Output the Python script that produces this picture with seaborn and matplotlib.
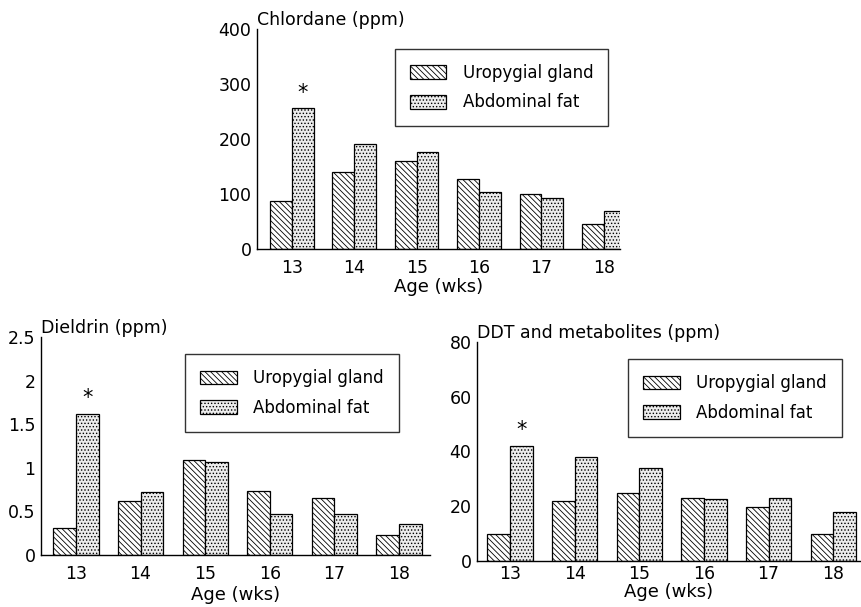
import numpy as np
import pandas as pd
import matplotlib
matplotlib.use("Agg")
import matplotlib.pyplot as plt
import seaborn as sns
from matplotlib.patches import Patch

# data
ages = ["13", "14", "15", "16", "17", "18"]
tissues = ["Uropygial gland", "Abdominal fat"]

chlordane_uro = [87, 140, 160, 127, 100, 45]
chlordane_fat = [256, 191, 176, 104, 93, 69]

dieldrin_uro = [0.31, 0.62, 1.09, 0.73, 0.65, 0.23]
dieldrin_fat = [1.62, 0.72, 1.07, 0.47, 0.47, 0.36]

ddt_uro = [10, 22, 25, 23, 19.7, 10]
ddt_fat = [42, 38, 34, 22.6, 23, 18]

W, H = 861, 607
HATCHES = ["\\" * 6, "." * 5]
FACES = ["white", "#ececec"]

sns.set_style("white")
plt.rcParams["font.family"] = ["DejaVu Sans"]
plt.rcParams["text.color"] = "black"
plt.rcParams["axes.labelcolor"] = "black"
plt.rcParams["xtick.color"] = "black"
plt.rcParams["ytick.color"] = "black"
plt.rcParams["hatch.linewidth"] = 0.6
plt.rcParams["hatch.color"] = "#444444"


def long_df(uro, fat):
    return pd.DataFrame({
        "age": ages * 2,
        "tissue": [tissues[0]] * len(ages) + [tissues[1]] * len(ages),
        "value": list(uro) + list(fat),
    })


def px_axes(fig, left, right, y0, ytop):
    """axes from pixel coords of the reference"""
    return fig.add_axes([left / W, (H - y0) / H, (right - left) / W, (y0 - ytop) / H])


def draw_panel(ax, uro, fat, ymax, yticks, yticklabels, ylabel, xlim, legend_box,
               xpad, xlabelpad):
    df = long_df(uro, fat)
    sns.barplot(data=df, x="age", y="value", hue="tissue", order=ages,
                hue_order=tissues, palette=FACES, width=0.7, edgecolor="black",
                linewidth=0.9, errorbar=None, legend=False, ax=ax)
    for cont, hatch in zip(ax.containers, HATCHES):
        for bar in cont:
            bar.set_hatch(hatch)

    # significance star on week-13 abdominal fat
    star_bar = ax.containers[1][0]
    ax.annotate("*", (star_bar.get_x() + star_bar.get_width() / 2, star_bar.get_height()),
                xytext=(0, 4), textcoords="offset points", ha="center", va="bottom",
                fontsize=15)

    ax.set_xlim(*xlim)
    ax.set_ylim(0, ymax)
    ax.set_yticks(yticks)
    ax.set_yticklabels(yticklabels)
    ax.set_xlabel("Age (wks)", fontsize=13, labelpad=xlabelpad)
    ax.set_ylabel("")
    ax.tick_params(axis="both", length=0, labelsize=12.5)
    ax.tick_params(axis="x", pad=xpad)
    ax.tick_params(axis="y", pad=4)
    sns.despine(ax=ax)
    for s in ["left", "bottom"]:
        ax.spines[s].set_color("black")
        ax.spines[s].set_linewidth(1.0)
    ax.text(0.0, 1.0, ylabel, transform=ax.transAxes, ha="left", va="bottom",
            fontsize=12.5)

    handles = [Patch(facecolor=FACES[i], edgecolor="black", hatch=HATCHES[i], linewidth=0.9)
               for i in range(2)]
    x0, y0, x1, y1 = legend_box
    leg = ax.legend(handles, tissues, loc="center",
                    bbox_to_anchor=((x0 + x1) / 2 / W, 1 - (y0 + y1) / 2 / H),
                    bbox_transform=ax.figure.transFigure,
                    frameon=True, fancybox=False, fontsize=12,
                    handlelength=2.2, handleheight=0.9, handletextpad=1.0,
                    labelspacing=0.7, borderpad=0.9)
    leg.get_frame().set_edgecolor("black")
    leg.get_frame().set_linewidth(1.0)


fig = plt.figure(figsize=(W / 100, H / 100), dpi=100)

ax_top = px_axes(fig, 257, 620, 249, 29)
draw_panel(ax_top, chlordane_uro, chlordane_fat, 400, [0, 100, 200, 300, 400],
           ["0", "100", "200", "300", "400"], "Chlordane (ppm)",
           (-0.56, 5.26), (394, 47, 609, 128), 7, 1)

ax_bl = px_axes(fig, 41, 430, 555, 337)
draw_panel(ax_bl, dieldrin_uro, dieldrin_fat, 2.5, [0, 0.5, 1, 1.5, 2, 2.5],
           ["0", "0.5", "1", "1.5", "2", "2.5"], "Dieldrin (ppm)",
           (-0.54, 5.48), (184, 352, 400, 434), 7, 2)

ax_br = px_axes(fig, 477, 861, 561, 342)
draw_panel(ax_br, ddt_uro, ddt_fat, 80, [0, 20, 40, 60, 80],
           ["0", "20", "40", "60", "80"], "DDT and metabolites (ppm)",
           (-0.51, 5.43), (623, 358, 847, 438), 3, 0)

fig.savefig("out.png", dpi=100)
